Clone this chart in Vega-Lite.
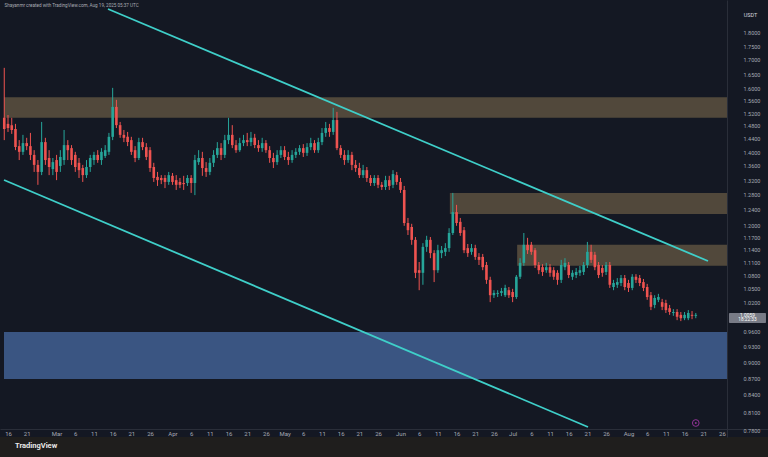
{
"$schema": "https://vega.github.io/schema/vega-lite/v6.json",
"width": 768, "height": 437,
"autosize": {"type": "none"},
"padding": {"left": 0, "top": 0, "right": 0, "bottom": 20},
"background": "#1f1e1d",
"config": {"view": {"fill": "#141823", "stroke": null}, "font": "Roboto"},
"title": {"text": "TradingView", "orient": "bottom", "anchor": "start", "dx": 15, "offset": 5, "fontSize": 7.5, "fontWeight": "bold", "color": "#e8e8e8", "font": "Roboto"},
"datasets": {
"zones": [
{"kind": "supply", "t": "2025-02-14T22:19:00Z", "t2": "2025-08-27T08:24:00Z", "p": 1.572, "p2": 1.505},
{"kind": "supply", "t": "2025-06-14T05:00:00Z", "t2": "2025-08-27T08:24:00Z", "p": 1.285, "p2": 1.229},
{"kind": "supply", "t": "2025-07-02T05:00:00Z", "t2": "2025-08-27T08:24:00Z", "p": 1.152, "p2": 1.102},
{"kind": "demand", "t": "2025-02-14T22:19:00Z", "t2": "2025-08-27T08:24:00Z", "p": 0.9588, "p2": 0.8684}
],
"lines": [
{"id": "upper", "t": "2025-03-14T18:00:00Z", "p": 1.8925},
{"id": "upper", "t": "2025-08-22T06:28:00Z", "p": 1.1133},
{"id": "lower", "t": "2025-02-14T22:19:00Z", "p": 1.3204},
{"id": "lower", "t": "2025-07-21T04:00:00Z", "p": 0.785}
],
"lastbox": [{"t": "2025-08-27T21:00:00Z", "t2": "2025-09-06T18:43:00Z", "p": 0.998, "p2": 0.977}],
"lasttext": [
{"t": "2025-09-01T20:00:00Z", "p": 0.992, "label": "1.0059"},
{"t": "2025-09-01T20:00:00Z", "p": 0.9823, "label": "18:22:33"}
],
"icon": [{"t": "2025-08-19", "p": 0.7916}],
"candles": [
{"t":"2025-02-15","o":1.505,"h":1.672,"l":1.436,"c":1.470},
{"t":"2025-02-16","o":1.486,"h":1.514,"l":1.461,"c":1.473},
{"t":"2025-02-17","o":1.482,"h":1.505,"l":1.455,"c":1.467},
{"t":"2025-02-18","o":1.470,"h":1.486,"l":1.406,"c":1.415},
{"t":"2025-02-19","o":1.418,"h":1.436,"l":1.377,"c":1.401},
{"t":"2025-02-20","o":1.401,"h":1.452,"l":1.392,"c":1.427},
{"t":"2025-02-21","o":1.427,"h":1.443,"l":1.406,"c":1.418},
{"t":"2025-02-22","o":1.418,"h":1.458,"l":1.377,"c":1.392},
{"t":"2025-02-23","o":1.392,"h":1.406,"l":1.343,"c":1.363},
{"t":"2025-02-24","o":1.363,"h":1.377,"l":1.307,"c":1.343},
{"t":"2025-02-25","o":1.343,"h":1.492,"l":1.334,"c":1.430},
{"t":"2025-02-26","o":1.430,"h":1.443,"l":1.363,"c":1.377},
{"t":"2025-02-27","o":1.383,"h":1.406,"l":1.334,"c":1.357},
{"t":"2025-02-28","o":1.351,"h":1.383,"l":1.334,"c":1.371},
{"t":"2025-03-01","o":1.377,"h":1.392,"l":1.320,"c":1.343},
{"t":"2025-03-02","o":1.360,"h":1.406,"l":1.343,"c":1.386},
{"t":"2025-03-03","o":1.377,"h":1.467,"l":1.363,"c":1.421},
{"t":"2025-03-04","o":1.421,"h":1.436,"l":1.377,"c":1.406},
{"t":"2025-03-05","o":1.412,"h":1.421,"l":1.363,"c":1.377},
{"t":"2025-03-06","o":1.392,"h":1.401,"l":1.343,"c":1.357},
{"t":"2025-03-07","o":1.369,"h":1.383,"l":1.326,"c":1.348},
{"t":"2025-03-08","o":1.354,"h":1.363,"l":1.315,"c":1.334},
{"t":"2025-03-09","o":1.334,"h":1.377,"l":1.326,"c":1.357},
{"t":"2025-03-10","o":1.357,"h":1.392,"l":1.343,"c":1.383},
{"t":"2025-03-11","o":1.377,"h":1.401,"l":1.363,"c":1.392},
{"t":"2025-03-12","o":1.392,"h":1.406,"l":1.369,"c":1.377},
{"t":"2025-03-13","o":1.377,"h":1.412,"l":1.363,"c":1.401},
{"t":"2025-03-14","o":1.389,"h":1.421,"l":1.383,"c":1.406},
{"t":"2025-03-15","o":1.401,"h":1.458,"l":1.392,"c":1.446},
{"t":"2025-03-16","o":1.446,"h":1.603,"l":1.436,"c":1.540},
{"t":"2025-03-17","o":1.540,"h":1.563,"l":1.473,"c":1.482},
{"t":"2025-03-18","o":1.482,"h":1.492,"l":1.443,"c":1.452},
{"t":"2025-03-19","o":1.452,"h":1.467,"l":1.430,"c":1.443},
{"t":"2025-03-20","o":1.446,"h":1.461,"l":1.418,"c":1.430},
{"t":"2025-03-21","o":1.436,"h":1.446,"l":1.392,"c":1.401},
{"t":"2025-03-22","o":1.406,"h":1.418,"l":1.371,"c":1.383},
{"t":"2025-03-23","o":1.383,"h":1.443,"l":1.377,"c":1.430},
{"t":"2025-03-24","o":1.430,"h":1.443,"l":1.406,"c":1.415},
{"t":"2025-03-25","o":1.415,"h":1.427,"l":1.377,"c":1.386},
{"t":"2025-03-26","o":1.406,"h":1.415,"l":1.343,"c":1.354},
{"t":"2025-03-27","o":1.357,"h":1.369,"l":1.315,"c":1.326},
{"t":"2025-03-28","o":1.329,"h":1.343,"l":1.304,"c":1.320},
{"t":"2025-03-29","o":1.326,"h":1.334,"l":1.309,"c":1.320},
{"t":"2025-03-30","o":1.326,"h":1.334,"l":1.298,"c":1.315},
{"t":"2025-03-31","o":1.315,"h":1.343,"l":1.307,"c":1.334},
{"t":"2025-04-01","o":1.332,"h":1.340,"l":1.307,"c":1.315},
{"t":"2025-04-02","o":1.320,"h":1.334,"l":1.293,"c":1.307},
{"t":"2025-04-03","o":1.315,"h":1.326,"l":1.298,"c":1.307},
{"t":"2025-04-04","o":1.312,"h":1.332,"l":1.293,"c":1.309},
{"t":"2025-04-05","o":1.312,"h":1.334,"l":1.304,"c":1.326},
{"t":"2025-04-06","o":1.326,"h":1.334,"l":1.285,"c":1.312},
{"t":"2025-04-07","o":1.312,"h":1.392,"l":1.279,"c":1.377},
{"t":"2025-04-08","o":1.371,"h":1.406,"l":1.363,"c":1.383},
{"t":"2025-04-09","o":1.383,"h":1.401,"l":1.332,"c":1.354},
{"t":"2025-04-10","o":1.354,"h":1.371,"l":1.329,"c":1.343},
{"t":"2025-04-11","o":1.343,"h":1.383,"l":1.334,"c":1.369},
{"t":"2025-04-12","o":1.369,"h":1.406,"l":1.357,"c":1.392},
{"t":"2025-04-13","o":1.392,"h":1.430,"l":1.383,"c":1.412},
{"t":"2025-04-14","o":1.412,"h":1.427,"l":1.377,"c":1.392},
{"t":"2025-04-15","o":1.392,"h":1.452,"l":1.383,"c":1.436},
{"t":"2025-04-16","o":1.436,"h":1.505,"l":1.424,"c":1.452},
{"t":"2025-04-17","o":1.452,"h":1.482,"l":1.412,"c":1.421},
{"t":"2025-04-18","o":1.421,"h":1.436,"l":1.398,"c":1.406},
{"t":"2025-04-19","o":1.406,"h":1.443,"l":1.401,"c":1.427},
{"t":"2025-04-20","o":1.427,"h":1.452,"l":1.418,"c":1.436},
{"t":"2025-04-21","o":1.436,"h":1.458,"l":1.418,"c":1.430},
{"t":"2025-04-22","o":1.430,"h":1.461,"l":1.418,"c":1.443},
{"t":"2025-04-23","o":1.443,"h":1.455,"l":1.412,"c":1.421},
{"t":"2025-04-24","o":1.421,"h":1.436,"l":1.401,"c":1.412},
{"t":"2025-04-25","o":1.412,"h":1.443,"l":1.401,"c":1.427},
{"t":"2025-04-26","o":1.427,"h":1.436,"l":1.398,"c":1.406},
{"t":"2025-04-27","o":1.406,"h":1.418,"l":1.369,"c":1.383},
{"t":"2025-04-28","o":1.383,"h":1.398,"l":1.354,"c":1.371},
{"t":"2025-04-29","o":1.371,"h":1.406,"l":1.363,"c":1.392},
{"t":"2025-04-30","o":1.392,"h":1.418,"l":1.383,"c":1.406},
{"t":"2025-05-01","o":1.406,"h":1.418,"l":1.377,"c":1.386},
{"t":"2025-05-02","o":1.386,"h":1.401,"l":1.363,"c":1.377},
{"t":"2025-05-03","o":1.377,"h":1.406,"l":1.369,"c":1.392},
{"t":"2025-05-04","o":1.392,"h":1.412,"l":1.383,"c":1.401},
{"t":"2025-05-05","o":1.401,"h":1.421,"l":1.392,"c":1.412},
{"t":"2025-05-06","o":1.412,"h":1.424,"l":1.386,"c":1.398},
{"t":"2025-05-07","o":1.398,"h":1.427,"l":1.389,"c":1.415},
{"t":"2025-05-08","o":1.415,"h":1.443,"l":1.406,"c":1.427},
{"t":"2025-05-09","o":1.427,"h":1.436,"l":1.398,"c":1.406},
{"t":"2025-05-10","o":1.406,"h":1.443,"l":1.398,"c":1.430},
{"t":"2025-05-11","o":1.430,"h":1.473,"l":1.421,"c":1.458},
{"t":"2025-05-12","o":1.458,"h":1.492,"l":1.446,"c":1.473},
{"t":"2025-05-13","o":1.473,"h":1.486,"l":1.446,"c":1.461},
{"t":"2025-05-14","o":1.461,"h":1.537,"l":1.452,"c":1.498},
{"t":"2025-05-15","o":1.498,"h":1.524,"l":1.406,"c":1.412},
{"t":"2025-05-16","o":1.412,"h":1.421,"l":1.383,"c":1.392},
{"t":"2025-05-17","o":1.392,"h":1.406,"l":1.363,"c":1.377},
{"t":"2025-05-18","o":1.377,"h":1.406,"l":1.369,"c":1.392},
{"t":"2025-05-19","o":1.392,"h":1.401,"l":1.348,"c":1.363},
{"t":"2025-05-20","o":1.363,"h":1.377,"l":1.343,"c":1.354},
{"t":"2025-05-21","o":1.354,"h":1.369,"l":1.326,"c":1.334},
{"t":"2025-05-22","o":1.334,"h":1.363,"l":1.326,"c":1.348},
{"t":"2025-05-23","o":1.348,"h":1.357,"l":1.315,"c":1.326},
{"t":"2025-05-24","o":1.326,"h":1.334,"l":1.304,"c":1.312},
{"t":"2025-05-25","o":1.312,"h":1.334,"l":1.304,"c":1.326},
{"t":"2025-05-26","o":1.326,"h":1.334,"l":1.298,"c":1.307},
{"t":"2025-05-27","o":1.307,"h":1.315,"l":1.293,"c":1.301},
{"t":"2025-05-28","o":1.301,"h":1.332,"l":1.293,"c":1.320},
{"t":"2025-05-29","o":1.320,"h":1.332,"l":1.293,"c":1.304},
{"t":"2025-05-30","o":1.307,"h":1.348,"l":1.298,"c":1.337},
{"t":"2025-05-31","o":1.334,"h":1.343,"l":1.307,"c":1.315},
{"t":"2025-06-01","o":1.315,"h":1.326,"l":1.285,"c":1.293},
{"t":"2025-06-02","o":1.293,"h":1.304,"l":1.199,"c":1.206},
{"t":"2025-06-03","o":1.206,"h":1.219,"l":1.176,"c":1.188},
{"t":"2025-06-04","o":1.196,"h":1.204,"l":1.152,"c":1.164},
{"t":"2025-06-05","o":1.164,"h":1.171,"l":1.074,"c":1.086},
{"t":"2025-06-06","o":1.092,"h":1.111,"l":1.047,"c":1.086},
{"t":"2025-06-07","o":1.086,"h":1.156,"l":1.059,"c":1.147},
{"t":"2025-06-08","o":1.147,"h":1.174,"l":1.135,"c":1.164},
{"t":"2025-06-09","o":1.164,"h":1.171,"l":1.120,"c":1.132},
{"t":"2025-06-10","o":1.132,"h":1.139,"l":1.065,"c":1.092},
{"t":"2025-06-11","o":1.092,"h":1.152,"l":1.086,"c":1.139},
{"t":"2025-06-12","o":1.132,"h":1.149,"l":1.120,"c":1.139},
{"t":"2025-06-13","o":1.135,"h":1.156,"l":1.125,"c":1.144},
{"t":"2025-06-14","o":1.144,"h":1.193,"l":1.135,"c":1.181},
{"t":"2025-06-15","o":1.181,"h":1.285,"l":1.176,"c":1.234},
{"t":"2025-06-16","o":1.234,"h":1.253,"l":1.199,"c":1.206},
{"t":"2025-06-17","o":1.209,"h":1.219,"l":1.174,"c":1.181},
{"t":"2025-06-18","o":1.188,"h":1.196,"l":1.132,"c":1.139},
{"t":"2025-06-19","o":1.144,"h":1.154,"l":1.123,"c":1.132},
{"t":"2025-06-20","o":1.135,"h":1.154,"l":1.128,"c":1.144},
{"t":"2025-06-21","o":1.144,"h":1.152,"l":1.116,"c":1.123},
{"t":"2025-06-22","o":1.123,"h":1.132,"l":1.104,"c":1.116},
{"t":"2025-06-23","o":1.123,"h":1.130,"l":1.092,"c":1.099},
{"t":"2025-06-24","o":1.104,"h":1.111,"l":1.061,"c":1.070},
{"t":"2025-06-25","o":1.070,"h":1.077,"l":1.021,"c":1.036},
{"t":"2025-06-26","o":1.036,"h":1.047,"l":1.030,"c":1.041},
{"t":"2025-06-27","o":1.039,"h":1.047,"l":1.032,"c":1.041},
{"t":"2025-06-28","o":1.041,"h":1.052,"l":1.034,"c":1.045},
{"t":"2025-06-29","o":1.036,"h":1.059,"l":1.032,"c":1.052},
{"t":"2025-06-30","o":1.047,"h":1.054,"l":1.030,"c":1.036},
{"t":"2025-07-01","o":1.043,"h":1.050,"l":1.021,"c":1.032},
{"t":"2025-07-02","o":1.032,"h":1.081,"l":1.028,"c":1.077},
{"t":"2025-07-03","o":1.077,"h":1.120,"l":1.072,"c":1.109},
{"t":"2025-07-04","o":1.109,"h":1.181,"l":1.102,"c":1.152},
{"t":"2025-07-05","o":1.152,"h":1.169,"l":1.130,"c":1.139},
{"t":"2025-07-06","o":1.152,"h":1.159,"l":1.128,"c":1.135},
{"t":"2025-07-07","o":1.139,"h":1.144,"l":1.097,"c":1.104},
{"t":"2025-07-08","o":1.104,"h":1.111,"l":1.083,"c":1.092},
{"t":"2025-07-09","o":1.099,"h":1.106,"l":1.079,"c":1.088},
{"t":"2025-07-10","o":1.092,"h":1.109,"l":1.086,"c":1.099},
{"t":"2025-07-11","o":1.099,"h":1.106,"l":1.077,"c":1.086},
{"t":"2025-07-12","o":1.092,"h":1.099,"l":1.070,"c":1.077},
{"t":"2025-07-13","o":1.086,"h":1.092,"l":1.059,"c":1.070},
{"t":"2025-07-14","o":1.070,"h":1.116,"l":1.063,"c":1.104},
{"t":"2025-07-15","o":1.099,"h":1.120,"l":1.092,"c":1.109},
{"t":"2025-07-16","o":1.104,"h":1.111,"l":1.074,"c":1.081},
{"t":"2025-07-17","o":1.077,"h":1.092,"l":1.070,"c":1.086},
{"t":"2025-07-18","o":1.081,"h":1.097,"l":1.074,"c":1.088},
{"t":"2025-07-19","o":1.086,"h":1.102,"l":1.079,"c":1.092},
{"t":"2025-07-20","o":1.088,"h":1.111,"l":1.081,"c":1.104},
{"t":"2025-07-21","o":1.104,"h":1.159,"l":1.097,"c":1.135},
{"t":"2025-07-22","o":1.135,"h":1.152,"l":1.109,"c":1.116},
{"t":"2025-07-23","o":1.128,"h":1.135,"l":1.092,"c":1.099},
{"t":"2025-07-24","o":1.104,"h":1.111,"l":1.074,"c":1.081},
{"t":"2025-07-25","o":1.097,"h":1.104,"l":1.077,"c":1.086},
{"t":"2025-07-26","o":1.088,"h":1.111,"l":1.081,"c":1.104},
{"t":"2025-07-27","o":1.104,"h":1.111,"l":1.052,"c":1.059},
{"t":"2025-07-28","o":1.054,"h":1.070,"l":1.047,"c":1.063},
{"t":"2025-07-29","o":1.059,"h":1.074,"l":1.052,"c":1.065},
{"t":"2025-07-30","o":1.063,"h":1.081,"l":1.056,"c":1.074},
{"t":"2025-07-31","o":1.074,"h":1.081,"l":1.047,"c":1.054},
{"t":"2025-08-01","o":1.063,"h":1.070,"l":1.043,"c":1.052},
{"t":"2025-08-02","o":1.052,"h":1.083,"l":1.047,"c":1.077},
{"t":"2025-08-03","o":1.077,"h":1.083,"l":1.063,"c":1.070},
{"t":"2025-08-04","o":1.074,"h":1.081,"l":1.056,"c":1.063},
{"t":"2025-08-05","o":1.065,"h":1.072,"l":1.045,"c":1.052},
{"t":"2025-08-06","o":1.054,"h":1.061,"l":1.026,"c":1.032},
{"t":"2025-08-07","o":1.036,"h":1.043,"l":1.004,"c":1.011},
{"t":"2025-08-08","o":1.015,"h":1.036,"l":1.008,"c":1.030},
{"t":"2025-08-09","o":1.026,"h":1.039,"l":1.021,"c":1.032},
{"t":"2025-08-10","o":1.021,"h":1.028,"l":1.004,"c":1.011},
{"t":"2025-08-11","o":1.019,"h":1.026,"l":0.998,"c":1.004},
{"t":"2025-08-12","o":1.008,"h":1.015,"l":0.994,"c":1.000},
{"t":"2025-08-13","o":0.998,"h":1.006,"l":0.992,"c":1.000},
{"t":"2025-08-14","o":1.000,"h":1.006,"l":0.983,"c":0.990},
{"t":"2025-08-15","o":0.994,"h":1.000,"l":0.981,"c":0.987},
{"t":"2025-08-16","o":0.987,"h":1.000,"l":0.983,"c":0.994},
{"t":"2025-08-17","o":0.987,"h":1.004,"l":0.983,"c":0.998},
{"t":"2025-08-18","o":0.994,"h":1.002,"l":0.985,"c":0.992},
{"t":"2025-08-19","o":0.992,"h":0.998,"l":0.987,"c":0.994}
]
},
"encoding": {
"x": {"field": "t", "type": "temporal",
"scale": {"type": "utc", "nice": false, "padding": 0, "domain": [{"year": 2025, "month": 2, "date": 13, "hours": 20, "minutes": 38, "utc": true}, {"year": 2025, "month": 9, "date": 7, "hours": 7, "minutes": 40, "utc": true}]},
"axis": {"orient": "bottom", "offset": -8, "grid": false, "ticks": false, "tickSize": 0, "domainColor": "#2a2e39", "domainWidth": 1,
"values": [
{"year": 2025, "month": 2, "date": 16, "utc": true}, {"year": 2025, "month": 2, "date": 21, "utc": true},
{"year": 2025, "month": 3, "date": 1, "utc": true}, {"year": 2025, "month": 3, "date": 6, "utc": true}, {"year": 2025, "month": 3, "date": 11, "utc": true}, {"year": 2025, "month": 3, "date": 16, "utc": true}, {"year": 2025, "month": 3, "date": 21, "utc": true}, {"year": 2025, "month": 3, "date": 26, "utc": true},
{"year": 2025, "month": 4, "date": 1, "utc": true}, {"year": 2025, "month": 4, "date": 6, "utc": true}, {"year": 2025, "month": 4, "date": 11, "utc": true}, {"year": 2025, "month": 4, "date": 16, "utc": true}, {"year": 2025, "month": 4, "date": 21, "utc": true}, {"year": 2025, "month": 4, "date": 26, "utc": true},
{"year": 2025, "month": 5, "date": 1, "utc": true}, {"year": 2025, "month": 5, "date": 6, "utc": true}, {"year": 2025, "month": 5, "date": 11, "utc": true}, {"year": 2025, "month": 5, "date": 16, "utc": true}, {"year": 2025, "month": 5, "date": 21, "utc": true}, {"year": 2025, "month": 5, "date": 26, "utc": true},
{"year": 2025, "month": 6, "date": 1, "utc": true}, {"year": 2025, "month": 6, "date": 6, "utc": true}, {"year": 2025, "month": 6, "date": 11, "utc": true}, {"year": 2025, "month": 6, "date": 16, "utc": true}, {"year": 2025, "month": 6, "date": 21, "utc": true}, {"year": 2025, "month": 6, "date": 26, "utc": true},
{"year": 2025, "month": 7, "date": 1, "utc": true}, {"year": 2025, "month": 7, "date": 6, "utc": true}, {"year": 2025, "month": 7, "date": 11, "utc": true}, {"year": 2025, "month": 7, "date": 16, "utc": true}, {"year": 2025, "month": 7, "date": 21, "utc": true}, {"year": 2025, "month": 7, "date": 26, "utc": true},
{"year": 2025, "month": 8, "date": 1, "utc": true}, {"year": 2025, "month": 8, "date": 6, "utc": true}, {"year": 2025, "month": 8, "date": 11, "utc": true}, {"year": 2025, "month": 8, "date": 16, "utc": true}, {"year": 2025, "month": 8, "date": 21, "utc": true}, {"year": 2025, "month": 8, "date": 26, "utc": true}
],
"labelExpr": "utcdate(datum.value) == 1 ? utcFormat(datum.value, '%b') : utcFormat(datum.value, '%-d')",
"labelFontSize": 6, "labelColor": "#a6a9b2", "labelPadding": 1.5, "labelBaseline": "top", "labelAlign": "center", "labelOverlap": false, "labelFlush": false, "labelBound": false,
"title": "Shayanmr created with TradingView.com, Aug 19, 2025 05:37 UTC",
"titleX": 4, "titleY": -424, "titleAlign": "left", "titleAnchor": "start", "titleBaseline": "middle", "titleFontSize": 4.6, "titleFontWeight": "normal", "titleColor": "#a9acb4"}},
"y": {"field": "p", "type": "quantitative",
"scale": {"type": "log", "domain": [0.76862, 1.92874], "nice": false, "zero": false, "padding": 0},
"axis": {"orient": "right", "offset": -41, "grid": false, "ticks": false, "tickSize": 0, "domainColor": "#2a2e39", "domainWidth": 1,
"values": [1.8, 1.75, 1.7, 1.65, 1.6, 1.56, 1.52, 1.48, 1.44, 1.4, 1.36, 1.32, 1.28, 1.24, 1.2, 1.17, 1.14, 1.11, 1.08, 1.05, 1.02, 0.96, 0.93, 0.9, 0.87, 0.84, 0.81, 0.78],
"format": ".4f", "labelFontSize": 5.5, "labelColor": "#a6a9b2", "labelPadding": 16, "labelAlign": "left", "labelBaseline": "middle", "labelOverlap": false, "labelBound": false, "labelFlush": false,
"title": "USDT", "titleAngle": 0, "titleX": 23, "titleY": 14.5, "titleAlign": "center", "titleBaseline": "middle", "titleFontSize": 5.5, "titleFontWeight": "normal", "titleColor": "#d1d4dc"}}
},
"layer": [
{
"data": {"name": "zones"},
"mark": {"type": "rect"},
"encoding": {
"x2": {"field": "t2"},
"y2": {"field": "p2"},
"color": {"field": "kind", "type": "nominal", "scale": {"domain": ["supply", "demand"], "range": ["#51483b", "#3a5582"]}, "legend": null}
}
},
{
"data": {"name": "candles"},
"mark": {"type": "rule", "strokeWidth": 1},
"encoding": {
"y": {"field": "l", "type": "quantitative",
"axis": {"orient": "right", "offset": -41, "grid": false, "ticks": false, "tickSize": 0, "domainColor": "#2a2e39", "domainWidth": 1,
"values": [1.8, 1.75, 1.7, 1.65, 1.6, 1.56, 1.52, 1.48, 1.44, 1.4, 1.36, 1.32, 1.28, 1.24, 1.2, 1.17, 1.14, 1.11, 1.08, 1.05, 1.02, 0.96, 0.93, 0.9, 0.87, 0.84, 0.81, 0.78],
"format": ".4f", "labelFontSize": 5.5, "labelColor": "#a6a9b2", "labelPadding": 16, "labelAlign": "left", "labelBaseline": "middle", "labelOverlap": false, "labelBound": false, "labelFlush": false,
"title": "USDT", "titleAngle": 0, "titleX": 23, "titleY": 14.5, "titleAlign": "center", "titleBaseline": "middle", "titleFontSize": 5.5, "titleFontWeight": "normal", "titleColor": "#d1d4dc"}},
"y2": {"field": "h"},
"color": {"condition": {"test": "datum.c >= datum.o", "value": "#26a69a"}, "value": "#ef5350"}
}
},
{
"data": {"name": "candles"},
"mark": {"type": "bar", "width": 2.6},
"encoding": {
"y": {"field": "o", "type": "quantitative",
"axis": {"orient": "right", "offset": -41, "grid": false, "ticks": false, "tickSize": 0, "domainColor": "#2a2e39", "domainWidth": 1,
"values": [1.8, 1.75, 1.7, 1.65, 1.6, 1.56, 1.52, 1.48, 1.44, 1.4, 1.36, 1.32, 1.28, 1.24, 1.2, 1.17, 1.14, 1.11, 1.08, 1.05, 1.02, 0.96, 0.93, 0.9, 0.87, 0.84, 0.81, 0.78],
"format": ".4f", "labelFontSize": 5.5, "labelColor": "#a6a9b2", "labelPadding": 16, "labelAlign": "left", "labelBaseline": "middle", "labelOverlap": false, "labelBound": false, "labelFlush": false,
"title": "USDT", "titleAngle": 0, "titleX": 23, "titleY": 14.5, "titleAlign": "center", "titleBaseline": "middle", "titleFontSize": 5.5, "titleFontWeight": "normal", "titleColor": "#d1d4dc"}},
"y2": {"field": "c"},
"color": {"condition": {"test": "datum.c >= datum.o", "value": "#26a69a"}, "value": "#ef5350"}
}
},
{
"data": {"name": "lines"},
"mark": {"type": "line", "strokeWidth": 1.8, "color": "#3fcfc9"},
"encoding": {
"detail": {"field": "id", "type": "nominal"}
}
},
{
"data": {"name": "lastbox"},
"mark": {"type": "rect", "color": "#787b86", "cornerRadius": 1},
"encoding": {
"x2": {"field": "t2"},
"y2": {"field": "p2"}
}
},
{
"data": {"name": "lasttext"},
"mark": {"type": "text", "fontSize": 4.8, "color": "#ffffff", "baseline": "middle"},
"encoding": {
"text": {"field": "label"}
}
},
{
"data": {"name": "icon"},
"mark": {"type": "point", "shape": "circle", "filled": false, "size": 45, "strokeWidth": 1, "color": "#c63fc6"},
"encoding": {}
},
{
"data": {"name": "icon"},
"mark": {"type": "point", "shape": "circle", "filled": true, "size": 4, "color": "#c63fc6"},
"encoding": {}
}
]
}
